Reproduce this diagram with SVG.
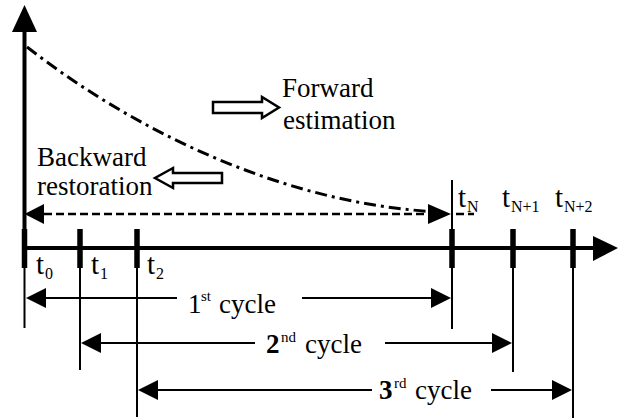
<svg xmlns="http://www.w3.org/2000/svg" width="623" height="418" viewBox="0 0 623 418">
  <style>
    .ax{stroke:#000;stroke-width:4;fill:none}
    .tick{stroke:#000;stroke-width:5.5}
    .thin{stroke:#000;stroke-width:2;fill:none}
    .head{fill:#000;stroke:none}
    .curve{stroke:#000;stroke-width:3;fill:none;stroke-dasharray:12 5 3 5}
    .dash{stroke:#000;stroke-width:2.5;fill:none;stroke-dasharray:8 4}
    .hollow{fill:#fff;stroke:#000;stroke-width:2.5;stroke-linejoin:miter}
    .txt{font-family:'Liberation Serif','DejaVu Serif',serif;fill:#000}
    .lbl{font-size:27px}
    .tl{font-size:29px}
    .sup{font-size:15px}
    .sub{font-size:16px}
    .b{font-weight:bold}
  </style>
  <rect width="623" height="418" fill="#fff"/>

  <g id="connectors">
    <!-- axes -->
    <line class="ax" x1="24.5" y1="30" x2="24.5" y2="248"/>
    <polygon class="head" points="24.5,5 12,32 37,32"/>
    <line class="ax" x1="22" y1="248" x2="595" y2="248"/>
    <polygon class="head" points="618,248 593,236 593,261"/>

    <!-- time ticks -->
    <line class="tick" x1="24.5" y1="229" x2="24.5" y2="268"/>
    <line class="tick" x1="80" y1="229" x2="80" y2="268"/>
    <line class="tick" x1="137" y1="229" x2="137" y2="268"/>
    <line class="tick" x1="452" y1="229" x2="452" y2="268"/>
    <line class="tick" x1="513" y1="229" x2="513" y2="268"/>
    <line class="tick" x1="573" y1="229" x2="573" y2="268"/>

    <!-- drop lines -->
    <line class="thin" x1="24.5" y1="268" x2="24.5" y2="328"/>
    <line class="thin" x1="80" y1="268" x2="80" y2="370"/>
    <line class="thin" x1="137" y1="268" x2="137" y2="417"/>
    <line class="thin" x1="452" y1="180" x2="452" y2="329"/>
    <line class="thin" x1="513" y1="268" x2="513" y2="372"/>
    <line class="thin" x1="573" y1="268" x2="573" y2="418"/>

    <!-- decay curve -->
    <path class="curve" d="M27,47 C140,135 290,205 440,212"/>

    <!-- dashed span t0..tN -->
    <line class="dash" x1="44" y1="214" x2="428" y2="214"/>
    <line class="dash" x1="456" y1="214" x2="474" y2="214"/>
    <polygon class="head" points="24.5,214 44,204 44,224"/>
    <polygon class="head" points="451,214 428,204 428,224"/>

    <!-- 1st cycle -->
    <line class="thin" x1="45" y1="298" x2="177" y2="298"/>
    <line class="thin" x1="302" y1="298" x2="432" y2="298"/>
    <polygon class="head" points="26,298 46,288 46,308"/>
    <polygon class="head" points="451,298 431,288 431,308"/>

    <!-- 2nd cycle -->
    <line class="thin" x1="100" y1="343" x2="255" y2="343"/>
    <line class="thin" x1="385" y1="343" x2="493" y2="343"/>
    <polygon class="head" points="81,343 101,333 101,353"/>
    <polygon class="head" points="512,343 492,333 492,353"/>

    <!-- 3rd cycle -->
    <line class="thin" x1="157" y1="390" x2="372" y2="390"/>
    <line class="thin" x1="491" y1="390" x2="553" y2="390"/>
    <polygon class="head" points="138,390 158,380 158,400"/>
    <polygon class="head" points="572,390 552,380 552,400"/>
  </g>

  <g id="forward" class="txt" font-family="Liberation Serif, DejaVu Serif, serif">
    <polygon class="hollow" points="213,102 262,102 262,97 279,107.5 262,118 262,113 213,113"/>
    <text class="lbl" x="282" y="97">Forward</text>
    <text class="lbl" x="283" y="129">estimation</text>
  </g>

  <g id="backward" class="txt" font-family="Liberation Serif, DejaVu Serif, serif">
    <polygon class="hollow" points="222,173 173,173 173,168 155,178 173,188 173,183 222,183"/>
    <text class="lbl" x="37" y="166">Backward</text>
    <text class="lbl" x="37" y="195">restoration</text>
  </g>

  <g id="time-labels" class="txt" font-family="Liberation Serif, DejaVu Serif, serif">
    <text class="tl" x="36" y="274">t</text><text class="sub" x="45" y="279">0</text>
    <text class="tl" x="91" y="274">t</text><text class="sub" x="100" y="279">1</text>
    <text class="tl" x="147" y="274">t</text><text class="sub" x="156" y="279">2</text>
    <text class="tl" x="458" y="207">t</text><text class="sub" x="467" y="212">N</text>
    <text class="tl" x="502" y="207">t</text><text class="sub" x="511" y="212">N+1</text>
    <text class="tl" x="555" y="207">t</text><text class="sub" x="564" y="212">N+2</text>
  </g>

  <g id="cycle-1" class="txt" font-family="Liberation Serif, DejaVu Serif, serif">
    <text class="lbl" x="188" y="313">1</text><text class="sup" x="201" y="301">st</text><text class="lbl" x="219" y="313">cycle</text>
  </g>
  <g id="cycle-2" class="txt" font-family="Liberation Serif, DejaVu Serif, serif">
    <text class="lbl b" x="266" y="353">2</text><text class="sup" x="281" y="342">nd</text><text class="lbl" x="305" y="353">cycle</text>
  </g>
  <g id="cycle-3" class="txt" font-family="Liberation Serif, DejaVu Serif, serif">
    <text class="lbl b" x="379" y="399">3</text><text class="sup" x="394" y="388">rd</text><text class="lbl" x="415" y="399">cycle</text>
  </g>
</svg>
